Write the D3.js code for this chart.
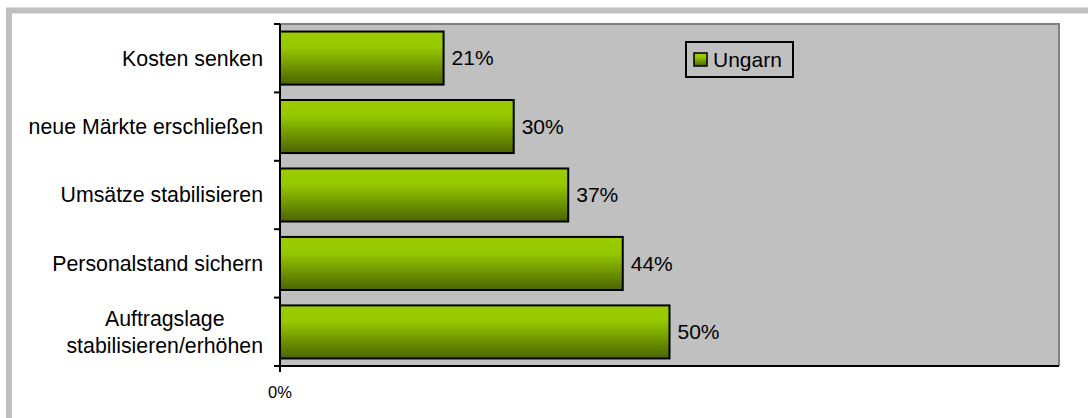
<!DOCTYPE html>
<html>
<head>
<meta charset="utf-8">
<script src="https://cdn.jsdelivr.net/npm/d3@7/dist/d3.min.js"></script>
<style>
  html, body { margin: 0; padding: 0; background: #fff; }
  svg { display: block; font-family: "Liberation Sans", Arial, sans-serif; }
</style>
</head>
<body>
<svg id="chart" width="1088" height="418"></svg>
<script>
// Survey answers, share of companies (Ungarn)
const categories = [
  ["Kosten senken"],
  ["neue Märkte erschließen"],
  ["Umsätze stabilisieren"],
  ["Personalstand sichern"],
  ["Auftragslage", "stabilisieren/erhöhen"]
];
const values = [0.21, 0.30, 0.37, 0.44, 0.50];
const seriesName = "Ungarn";
const xTickValues = [0];

const svg = d3.select("#chart");
const W = 1088, H = 418;

svg.append("rect").attr("width", W).attr("height", H).attr("fill", "#fff");
// outer frame
svg.append("rect")
  .attr("x", 9).attr("y", 10.5).attr("width", 1200).attr("height", 500)
  .attr("fill", "none").attr("stroke", "#c0c0c0").attr("stroke-width", 6);

const plot = { left: 280, right: 1059, top: 24, bottom: 366 };

const x = d3.scaleLinear().domain([0, 1]).range([plot.left, plot.right]);
const idx = d3.range(categories.length);
const yBand = d3.scaleBand().domain(idx).range([plot.top, plot.bottom]).padding(0);
const yBar = d3.scaleBand().domain(idx).range([plot.top, plot.bottom])
  .paddingInner(0.225).paddingOuter(0.11);

// gradient fill for bars
const defs = svg.append("defs");
const grad = defs.append("linearGradient").attr("id", "barGrad")
  .attr("x1", 0).attr("y1", 0).attr("x2", 0).attr("y2", 1);
grad.append("stop").attr("offset", 0).attr("stop-color", "#9acc00");
grad.append("stop").attr("offset", 0.3).attr("stop-color", "#96c800");
grad.append("stop").attr("offset", 1).attr("stop-color", "#4a6400");

// plot background
svg.append("rect")
  .attr("x", plot.left).attr("y", plot.top)
  .attr("width", plot.right - plot.left).attr("height", plot.bottom - plot.top)
  .attr("fill", "#c0c0c0");
svg.append("path")
  .attr("d", `M${plot.left},${plot.top}H${plot.right}V${plot.bottom}`)
  .attr("fill", "none").attr("stroke", "#808080").attr("stroke-width", 2);

// bars
svg.append("g").selectAll("rect").data(values).join("rect")
  .attr("x", x(0))
  .attr("y", (d, i) => yBar(i))
  .attr("width", d => x(d) - x(0))
  .attr("height", yBar.bandwidth())
  .attr("fill", "url(#barGrad)")
  .attr("stroke", "#000").attr("stroke-width", 2);

// value labels
svg.append("g").selectAll("text").data(values).join("text")
  .attr("x", d => x(d) + 8)
  .attr("y", (d, i) => yBar(i) + yBar.bandwidth() / 2)
  .attr("dy", "0.35em")
  .attr("font-size", 21).attr("fill", "#000")
  .text(d => d3.format(".0%")(d));

// category axis: line and ticks at band boundaries
const yAxis = svg.append("g");
yAxis.append("line")
  .attr("x1", plot.left).attr("x2", plot.left)
  .attr("y1", plot.top).attr("y2", plot.bottom)
  .attr("stroke", "#000").attr("stroke-width", 2);
const bounds = idx.map(i => yBand(i)).concat([plot.bottom]);
yAxis.selectAll("line.tick").data(bounds).join("line")
  .attr("class", "tick")
  .attr("x1", plot.left - 6).attr("x2", plot.left)
  .attr("y1", d => d).attr("y2", d => d)
  .attr("stroke", "#000").attr("stroke-width", 2);

// category labels (right aligned block, multi-line lines centred)
const labelRight = 263, lineH = 27;
categories.forEach((lines, i) => {
  const cy = yBand(i) + yBand.bandwidth() / 2;
  const t = svg.append("text").attr("font-size", 21.3).attr("fill", "#000");
  lines.forEach((ln, j) => {
    t.append("tspan").attr("y", cy + (j - (lines.length - 1) / 2) * lineH)
      .attr("dy", "0.35em").text(ln);
  });
  const widths = t.selectAll("tspan").nodes().map(n => n.getComputedTextLength());
  const maxW = d3.max(widths);
  t.attr("text-anchor", "middle");
  t.selectAll("tspan").attr("x", labelRight - maxW / 2);
});

// value axis
const xAxis = svg.append("g");
xAxis.append("line")
  .attr("x1", plot.left - 1).attr("x2", plot.right)
  .attr("y1", plot.bottom).attr("y2", plot.bottom)
  .attr("stroke", "#000").attr("stroke-width", 2);
xAxis.selectAll("line.tick").data(xTickValues).join("line")
  .attr("class", "tick")
  .attr("x1", d => x(d)).attr("x2", d => x(d))
  .attr("y1", plot.bottom).attr("y2", plot.bottom + 6)
  .attr("stroke", "#000").attr("stroke-width", 2);
xAxis.selectAll("text").data(xTickValues).join("text")
  .attr("x", d => x(d)).attr("y", 398)
  .attr("text-anchor", "middle").attr("font-size", 16.5).attr("fill", "#000")
  .text(d => d3.format(".0%")(d));

// legend
const lg = svg.append("g").attr("transform", "translate(686,42)");
lg.append("rect").attr("width", 107).attr("height", 35)
  .attr("fill", "#c0c0c0").attr("stroke", "#000").attr("stroke-width", 2);
lg.append("rect").attr("x", 8).attr("y", 11).attr("width", 13).attr("height", 13)
  .attr("fill", "url(#barGrad)").attr("stroke", "#000").attr("stroke-width", 1.5);
lg.append("text").attr("x", 27).attr("y", 18).attr("dy", "0.35em")
  .attr("font-size", 21).attr("fill", "#000").text(seriesName);
</script>
</body>
</html>
